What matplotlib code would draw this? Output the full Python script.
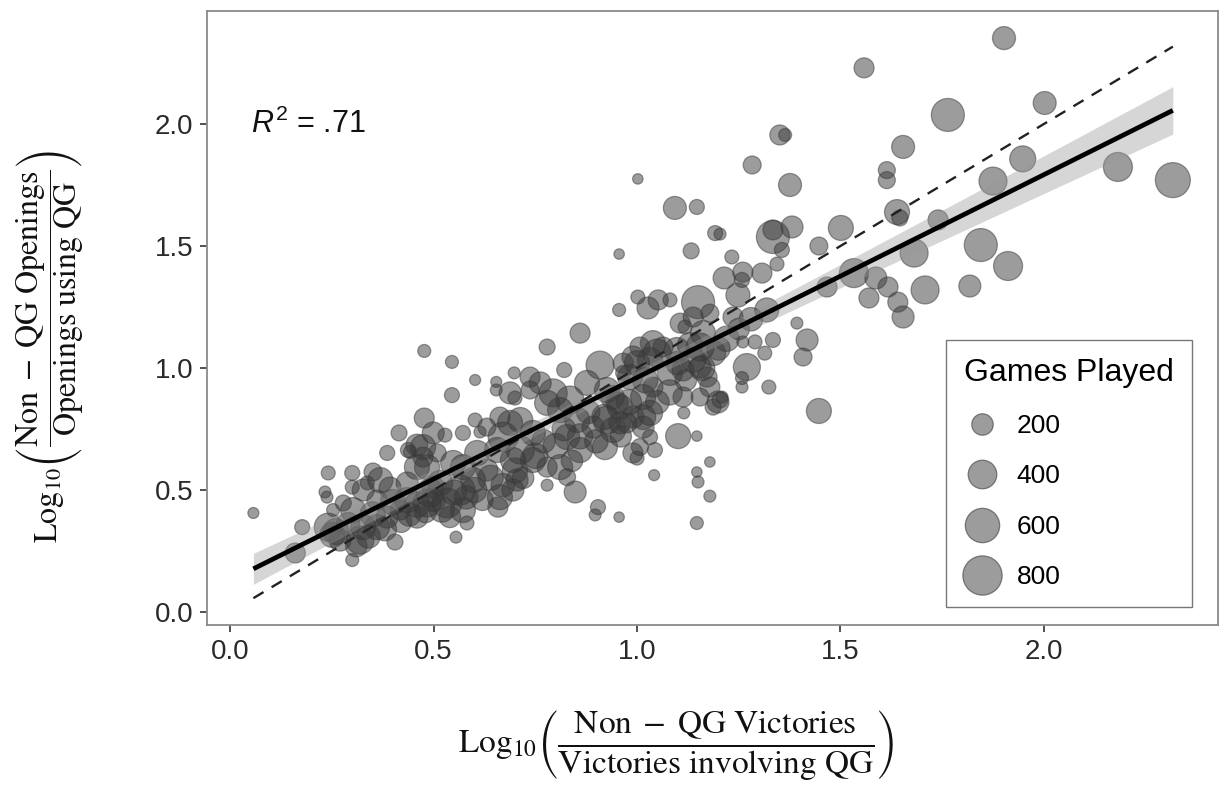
import numpy as np
import matplotlib
matplotlib.use("Agg")
import matplotlib.pyplot as plt
from matplotlib.lines import Line2D

# ---- data ----
x_vals = [
 1.002,1.093,1.147,1.133,0.956,1.192,1.204,1.283,1.376,1.334,1.334,1.356,1.381,1.351,1.364,1.233,1.344,1.214,1.260,1.307,
 1.258,1.248,1.002,1.027,1.052,1.081,0.956,1.150,1.319,1.393,1.138,1.179,1.236,1.118,1.334,1.290,1.260,1.039,1.007,1.064,
 1.130,1.314,1.902,1.558,1.764,2.002,1.654,1.614,1.614,1.948,1.875,2.182,2.317,1.639,1.646,1.740,1.501,1.447,1.681,1.845,
 1.912,1.818,1.708,1.533,1.570,1.587,1.617,1.641,1.654,1.467,1.418,1.408,1.270,1.258,1.324,1.258,1.447,1.204,1.187,1.179,
 1.179,1.150,1.147,1.147,1.155,1.199,1.209,1.115,1.101,1.147,1.007,1.044,1.000,1.042,0.956,0.921,0.848,0.779,0.904,0.897,
 0.582,0.555,0.057,0.177,0.160,0.241,0.233,0.238,0.253,0.300,0.351,0.386,0.415,0.477,0.477,0.545,0.545,0.602,0.654,0.654,
 0.698,0.688,0.779,0.860,0.821,0.909,0.405,0.300,0.251,
 # lower-left band
 0.300,0.327,0.437,0.459,0.278,0.241,0.270,0.302,0.327,0.361,0.337,0.369,0.393,0.386,0.319,0.361,0.418,0.435,0.459,0.474,
 0.499,0.442,0.435,0.484,0.499,0.459,
 # middle band
 0.474,0.509,0.528,0.572,0.614,0.548,0.572,0.607,0.631,0.597,0.565,0.516,0.491,0.533,0.572,0.663,0.658,0.695,0.705,0.656,
 0.671,0.688,0.663,0.713,0.744,0.713,0.744,0.695,0.779,0.811,0.828,0.779,0.794,0.811,0.835,0.853,0.828,0.860,0.892,0.877,
 0.926,0.951,0.983,0.990,0.966,0.958,0.990,0.990,0.737,0.737,0.762,0.700,0.602,0.631,0.484,
 # upper band
 1.032,1.039,1.015,0.975,0.966,1.000,1.049,1.098,1.081,1.113,1.138,1.155,1.172,1.179,1.015,0.958,1.032,0.926,0.941,1.015,
 1.032,1.106,1.162,1.187,1.155,1.113,
 # overlapping circles inside the dark core of the band
 0.26,0.29,0.31,0.34,0.35,0.38,0.40,0.42,0.44,0.46,0.48,0.50,0.52,0.54,0.55,0.58,0.60,0.62,0.64,0.67,
 0.70,0.72,0.75,0.77,0.80,0.82,0.84,0.86,0.88,0.90,0.92,0.94,0.96,0.98,1.02,1.05,1.08,1.10,1.12,1.16,
 1.20,1.22,1.25,1.28,
]
y_vals = [
 1.775,1.656,1.660,1.480,1.467,1.553,1.549,1.832,1.750,1.537,1.566,1.484,1.578,1.955,1.955,1.455,1.426,1.369,1.393,1.389,
 1.361,1.299,1.291,1.246,1.279,1.279,1.238,1.270,1.238,1.184,1.209,1.225,1.209,1.168,1.115,1.107,1.107,1.102,1.086,1.086,
 1.094,1.061,2.352,2.230,2.037,2.086,1.906,1.811,1.770,1.857,1.766,1.824,1.770,1.639,1.615,1.607,1.574,1.500,1.471,1.504,
 1.418,1.336,1.320,1.389,1.287,1.369,1.332,1.270,1.209,1.332,1.115,1.045,1.004,0.959,0.922,0.922,0.824,0.869,0.840,0.615,
 0.475,0.533,0.574,0.365,0.881,0.861,0.881,0.816,0.721,0.721,0.676,0.664,0.631,0.561,0.389,0.676,0.492,0.520,0.430,0.398,
 0.365,0.307,0.406,0.348,0.242,0.570,0.492,0.471,0.418,0.570,0.574,0.652,0.734,0.795,1.070,1.025,0.889,0.951,0.943,0.910,
 0.980,0.898,1.086,1.143,0.992,1.012,0.287,0.213,0.316,
 0.512,0.500,0.664,0.684,0.447,0.348,0.295,0.418,0.348,0.459,0.529,0.541,0.508,0.389,0.295,0.348,0.418,0.529,0.594,0.635,
 0.734,0.656,0.459,0.447,0.512,0.389,
 0.676,0.652,0.725,0.734,0.738,0.611,0.594,0.652,0.582,0.541,0.500,0.529,0.488,0.447,0.418,0.471,0.430,0.500,0.541,0.664,
 0.717,0.775,0.799,0.787,0.734,0.664,0.623,0.623,0.594,0.594,0.553,0.857,0.898,0.828,0.869,0.787,0.717,0.664,0.758,0.939,
 0.910,0.857,0.963,1.045,1.020,0.775,0.799,0.652,0.963,0.910,0.939,0.877,0.787,0.758,0.594,
 1.033,0.922,0.799,0.775,0.980,1.020,1.061,1.074,0.980,0.992,1.033,1.086,0.963,0.922,0.881,0.840,0.816,0.787,0.746,0.758,
 0.717,1.184,1.143,1.061,1.004,0.881,
 0.33,0.36,0.27,0.31,0.40,0.34,0.45,0.37,0.40,0.44,0.41,0.46,0.42,0.39,0.49,0.47,0.50,0.46,0.55,0.52,
 0.58,0.55,0.64,0.70,0.68,0.75,0.62,0.72,0.82,0.70,0.80,0.88,0.72,0.86,0.95,0.86,0.90,1.02,0.95,1.00,
 1.08,1.12,1.16,1.20,
]
games = [
 5,238,70,87,5,70,24,124,238,550,167,70,213,167,38,53,53,213,167,167,
 70,264,53,213,167,53,38,550,264,24,167,124,167,53,70,53,24,292,167,167,
 292,53,238,167,550,238,238,105,105,320,380,412,625,292,87,167,292,124,380,550,
 412,213,380,412,167,213,167,167,213,167,213,124,350,38,53,24,292,87,87,5,
 24,24,5,38,124,213,24,24,292,5,105,70,53,12,5,292,213,24,70,24,
 53,24,12,70,167,53,24,24,38,70,124,70,87,167,38,38,70,12,12,24,
 24,213,87,167,70,380,87,38,292,
 53,213,70,213,87,380,213,292,292,167,53,292,213,213,380,292,167,213,292,167,
 213,38,292,380,213,213,
 292,124,53,70,24,292,292,292,213,292,444,292,380,444,292,292,167,213,213,292,
 444,292,167,292,292,380,292,292,167,292,105,292,380,292,380,292,292,292,213,292,
 292,213,292,213,167,213,213,167,167,124,213,53,53,124,292,
 292,167,292,167,70,292,380,292,292,213,292,380,167,167,292,292,292,380,292,213,
 70,167,292,292,213,167,
 320,250,200,250,300,250,300,200,250,300,200,250,300,200,300,250,300,200,300,250,
 300,200,300,250,300,250,200,300,250,250,300,250,200,300,300,250,300,250,200,300,
 250,300,200,250,
]
legend_games = [200, 400, 600, 800]
x_ticks = [0.0, 0.5, 1.0, 1.5, 2.0]
y_ticks = [0.0, 0.5, 1.0, 1.5, 2.0]
r2_text = r"$R^2$ = .71"

x = np.array(x_vals); y = np.array(y_vals); g = np.array(games, dtype=float)

def size_of(gm):
    dia_px = np.sqrt(100 + 1.8 * np.asarray(gm, dtype=float))
    return (dia_px * 0.72) ** 2

plt.rcParams['font.family'] = ['Liberation Sans', 'DejaVu Sans']
plt.rcParams['mathtext.fontset'] = 'stix'
plt.rcParams['mathtext.it'] = 'Liberation Sans:italic'
plt.rcParams['mathtext.rm'] = 'Liberation Sans'
plt.rcParams['mathtext.bf'] = 'Liberation Sans:bold'
plt.rcParams['mathtext.sf'] = 'Liberation Sans'

fig = plt.figure(figsize=(12.26, 7.86), dpi=100)
ax = fig.add_axes([207/1226, 1-625/786, (1218-207)/1226, (625-11)/786])

pt_color = '#3a3a3a'
ax.scatter(x, y, s=size_of(g), c=pt_color, alpha=0.5, edgecolors=pt_color,
           linewidths=0.9, zorder=2)

# linear fit with 95% confidence band
slope, intercept = np.polyfit(x, y, 1)
xs = np.linspace(x.min(), x.max(), 200)
ys = intercept + slope * xs
n = len(x)
resid = y - (intercept + slope * x)
s_err = np.sqrt(np.sum(resid**2) / (n - 2))
sxx = np.sum((x - x.mean())**2)
se = s_err * np.sqrt(1/n + (xs - x.mean())**2 / sxx)
ax.fill_between(xs, ys - 1.97*se, ys + 1.97*se, color='#999999', alpha=0.4,
                linewidth=0, zorder=3)
ax.plot(xs, ys, color='black', lw=3.4, zorder=5, solid_capstyle='butt')
ax.plot(xs, xs, color='#222222', lw=1.7, ls=(0, (5, 4)), zorder=4)

ax.set_xlim(-0.057, 2.428)
ax.set_ylim(-0.053, 2.463)
ax.set_xticks(x_ticks)
ax.set_yticks(y_ticks)
ax.set_xticklabels([f"{v:.1f}" for v in x_ticks])
ax.set_yticklabels([f"{v:.1f}" for v in y_ticks])
ax.tick_params(axis='both', labelsize=20, colors='#333333', length=5, width=1.2,
               labelcolor='#2a2a2a', pad=5)
for sp in ax.spines.values():
    sp.set_color('#8a8a8a')
    sp.set_linewidth(1.3)

ax.text(0.05, 2.0, r2_text, fontsize=22, color='#111111', va='center', ha='left',
        math_fontfamily='custom')

# legend
handles = [Line2D([], [], ls='none', marker='o', markersize=np.sqrt(size_of(v)),
                  markerfacecolor=(0.23, 0.23, 0.23, 0.5),
                  markeredgecolor=(0.23, 0.23, 0.23, 0.6), markeredgewidth=0.9)
           for v in legend_games]
leg = ax.legend(handles, [str(v) for v in legend_games], title='Games Played',
                loc='lower right', bbox_to_anchor=(0.974, 0.029), borderaxespad=0,
                fontsize=19, title_fontsize=23, frameon=True, fancybox=False,
                labelspacing=1.0, handletextpad=0.6, borderpad=0.68,
                handlelength=1.4, alignment='left')
leg.get_frame().set_edgecolor('#555555')
leg.get_frame().set_linewidth(1.0)

fig.text(676/1226, 1-745/786,
         r"$\mathrm{Log}_{10}\left(\dfrac{\mathrm{Non}\;-\;\mathrm{QG\ Victories}}{\mathrm{Victories\ involving\ QG}}\right)$",
         fontsize=24, ha='center', va='center', color='#111111', math_fontfamily='stix')
fig.text(50/1226, 1-346/786,
         r"$\mathrm{Log}_{10}\left(\dfrac{\mathrm{Non}\;-\;\mathrm{QG\ Openings}}{\mathrm{Openings\ using\ QG}}\right)$",
         fontsize=23, ha='center', va='center', rotation=90, color='#111111',
         math_fontfamily='stix')

fig.savefig('out.png', dpi=100, facecolor='white')
